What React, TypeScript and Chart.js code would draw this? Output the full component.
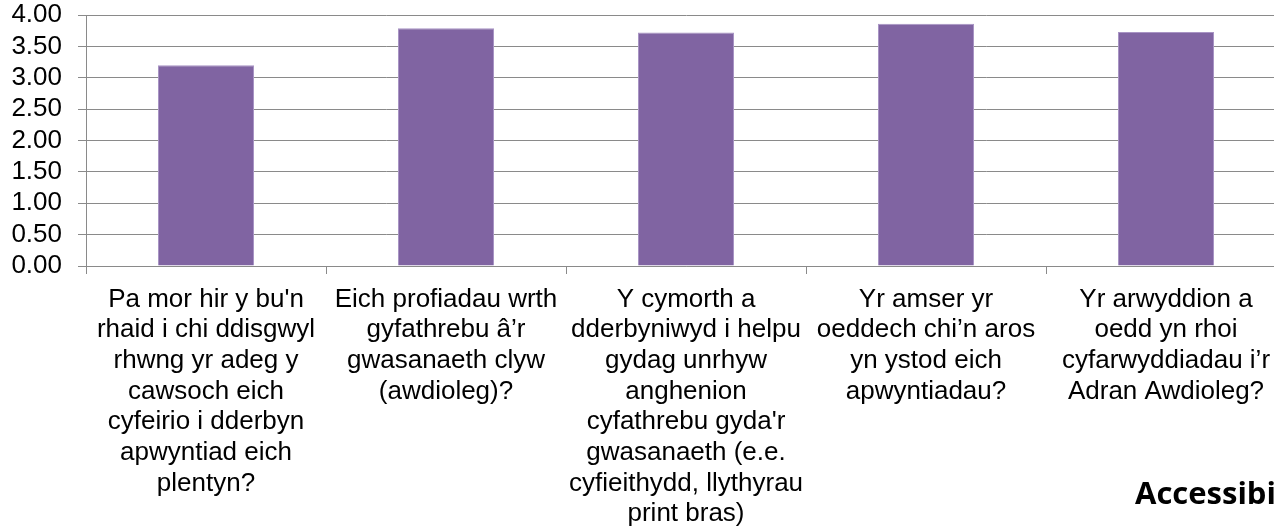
import React, { useEffect, useRef } from "react";
import { Chart, registerables } from "chart.js";

Chart.register(...registerables);

const categories: string[][] = [
  ["Pa mor hir y bu'n", "rhaid i chi ddisgwyl", "rhwng yr adeg y", "cawsoch eich", "cyfeirio i dderbyn", "apwyntiad eich", "plentyn?"],
  ["Eich profiadau wrth", "gyfathrebu â’r", "gwasanaeth clyw", "(awdioleg)?"],
  ["Y cymorth a", "dderbyniwyd i helpu", "gydag unrhyw", "anghenion", "cyfathrebu gyda'r", "gwasanaeth (e.e.", "cyfieithydd, llythyrau", "print bras)"],
  ["Yr amser yr", "oeddech chi’n aros", "yn ystod eich", "apwyntiadau?"],
  ["Yr arwyddion a", "oedd yn rhoi", "cyfarwyddiadau i’r", "Adran Awdioleg?"],
];
const scores: number[] = [3.2, 3.79, 3.72, 3.86, 3.73];
const yMin = 0;
const yMax = 4;
const yStep = 0.5;
const footerText = "Accessibi";

const GRID = "#8a8a8a";
const FONT = "Arial, 'Liberation Sans', sans-serif";

export default function App() {
  const ref = useRef<HTMLCanvasElement | null>(null);
  useEffect(() => {
    if (!ref.current) return;
    const chart = new Chart(ref.current, {
      type: "bar",
      data: {
        labels: categories,
        datasets: [
          {
            data: scores,
            backgroundColor: "#8064A2",
            borderColor: "#a894c4",
            borderWidth: 1,
            categoryPercentage: 1,
            barPercentage: 0.4,
          },
        ],
      },
      options: {
        responsive: false,
        animation: false,
        layout: { padding: { top: 15, right: 34, left: 0, bottom: 0 } },
        plugins: { legend: { display: false }, tooltip: { enabled: false } },
        scales: {
          x: {
            offset: true,
            grid: {
              offset: true,
              drawOnChartArea: false,
              drawTicks: true,
              tickLength: 8,
              color: GRID,
            },
            border: { color: GRID, width: 1 },
            ticks: {
              color: "#000",
              font: { family: FONT, size: 26, lineHeight: 1.18 },
              maxRotation: 0,
              minRotation: 0,
              autoSkip: false,
              padding: 10,
            },
            afterFit: (s: any) => {
              s.height = 260;
              s.paddingLeft = 0;
              s.paddingRight = 0;
            },
          },
          y: {
            min: yMin,
            max: yMax,
            ticks: {
              stepSize: yStep,
              color: "#000",
              font: { family: FONT, size: 26, lineHeight: 1.15 },
              padding: 16,
              autoSkip: false,
              callback: (v: any) => Number(v).toFixed(2),
            },
            grid: { color: GRID, lineWidth: 1, tickLength: 8 },
            border: { color: GRID, width: 1 },
            afterFit: (s: any) => {
              s.width = 86;
              s.paddingTop = 0;
              s.paddingBottom = 0;
            },
          },
        },
      },
    });
    return () => chart.destroy();
  }, []);
  return (
    <div
      style={{
        position: "fixed",
        left: 0,
        top: 0,
        width: 1274,
        height: 526,
        overflow: "hidden",
        background: "#fff",
      }}
    >
      <canvas ref={ref} width={1320} height={526} style={{ display: "block", width: 1320, height: 526 }} />
      <div
        style={{
          position: "absolute",
          left: 1135,
          top: 470,
          fontFamily: "'Open Sans', sans-serif",
          fontWeight: 700,
          fontSize: 31,
          color: "#000",
          whiteSpace: "nowrap",
          lineHeight: "44px",
        }}
      >
        {footerText}
      </div>
    </div>
  );
}
